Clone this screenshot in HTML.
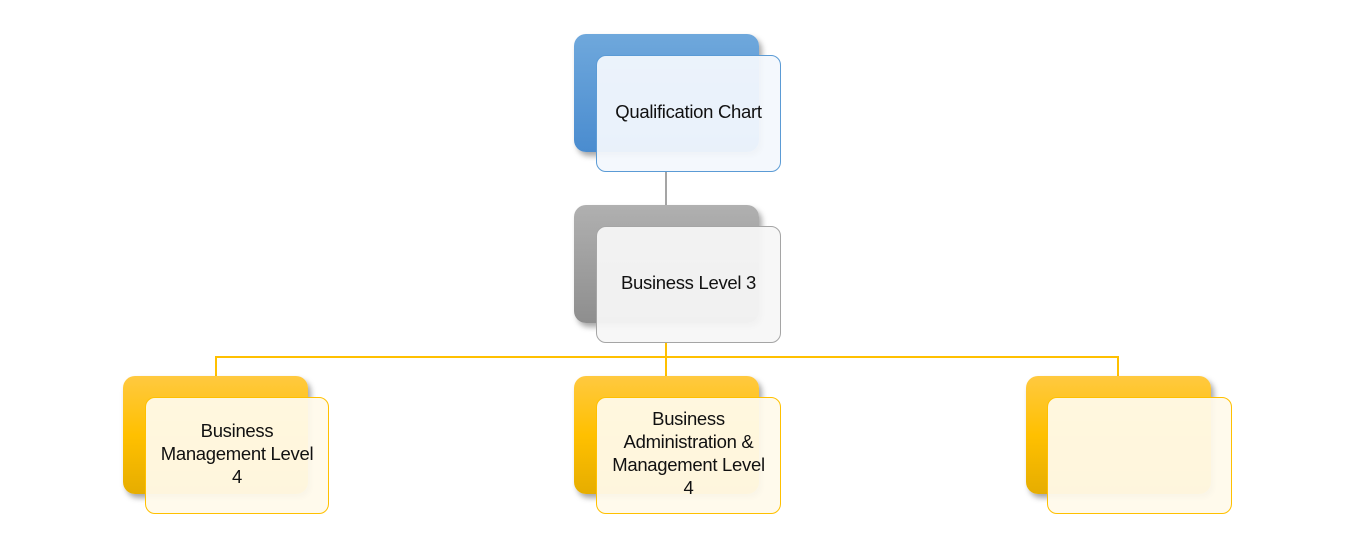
<!DOCTYPE html>
<html><head><style>
body{margin:0;width:1347px;height:539px;background:#fff;position:relative;overflow:hidden;font-family:"Liberation Sans",sans-serif}
.b{position:absolute;width:185px;height:118px;border-radius:12px;box-shadow:3px 4px 6px rgba(0,0,0,0.35)}
.f{position:absolute;width:183px;height:115px;border-radius:10px;display:flex;align-items:center;justify-content:center;text-align:center;font-size:18.5px;line-height:23px;color:#111;box-sizing:border-box;letter-spacing:-0.3px;padding-bottom:5px}
.blue{background:linear-gradient(#6fa8dc,#4a8ccf)}
.gray{background:linear-gradient(#b0b0b0,#8e8e8e)}
.yel{background:linear-gradient(#ffc940,#ffc000 50%,#e6ad00)}
.fb{background:rgba(243,248,253,0.94);border:1px solid #5b9bd5}
.fg{background:rgba(246,246,246,0.94);border:1px solid #a5a5a5}
.fy{background:rgba(255,250,235,0.94);border:1px solid #ffc000}
.l{position:absolute}
</style></head><body>
<div class="l" style="left:665px;top:171px;width:2px;height:35px;background:#a5a5a5"></div>
<div class="l" style="left:665px;top:342px;width:2px;height:35px;background:#ffc000"></div>
<div class="l" style="left:215px;top:356px;width:904px;height:2px;background:#ffc000"></div>
<div class="l" style="left:215px;top:356px;width:2px;height:21px;background:#ffc000"></div>
<div class="l" style="left:1117px;top:356px;width:2px;height:21px;background:#ffc000"></div>

<div class="b blue" style="left:574px;top:34px"></div>
<div class="f fb" style="left:596px;top:55px;width:185px;height:117px">Qualification Chart</div>

<div class="b gray" style="left:574px;top:205px"></div>
<div class="f fg" style="left:596px;top:226px;width:185px;height:117px">Business Level 3</div>

<div class="b yel" style="left:123px;top:376px"></div>
<div class="f fy" style="left:145px;top:397px;width:184px;height:117px">Business<br>Management Level<br>4</div>

<div class="b yel" style="left:574px;top:376px"></div>
<div class="f fy" style="left:596px;top:397px;width:185px;height:117px">Business<br>Administration &amp;<br>Management Level<br>4</div>

<div class="b yel" style="left:1026px;top:376px"></div>
<div class="f fy" style="left:1047px;top:397px;width:185px;height:117px"></div>
</body></html>
